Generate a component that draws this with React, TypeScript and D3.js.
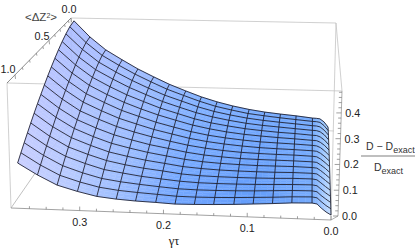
import React from "react";
import * as d3 from "d3";

// gamma tau values of the surface columns (the last four sit inside the last mesh cell)
const gammaTau = [0.372, 0.349, 0.326, 0.302, 0.279, 0.256, 0.233, 0.209, 0.186, 0.163, 0.14, 0.116, 0.093, 0.07, 0.047, 0.023, 0.017, 0.012, 0.006, 0];
const meshColumns = 17;
// <dZ^2> values of the surface rows
const deltaZ = [0, 0.0625, 0.125, 0.1875, 0.25, 0.3125, 0.375, 0.4375, 0.5, 0.5625, 0.625, 0.6875, 0.75, 0.8125, 0.875, 0.9375, 1];

// (D - Dexact) / Dexact, one row per deltaZ, one column per gammaTau
const surface = [
  [0.481, 0.406, 0.346, 0.3, 0.258, 0.222, 0.188, 0.158, 0.131, 0.109, 0.091, 0.076, 0.065, 0.057, 0.05, 0.041, 0.04, 0.038, 0.024, 0],
  [0.465, 0.392, 0.333, 0.288, 0.248, 0.213, 0.18, 0.152, 0.126, 0.104, 0.088, 0.073, 0.064, 0.056, 0.049, 0.042, 0.041, 0.038, 0.023, 0],
  [0.446, 0.375, 0.317, 0.273, 0.235, 0.201, 0.17, 0.144, 0.119, 0.099, 0.084, 0.071, 0.062, 0.055, 0.049, 0.042, 0.041, 0.037, 0.022, 0],
  [0.426, 0.356, 0.3, 0.258, 0.221, 0.19, 0.16, 0.135, 0.112, 0.094, 0.08, 0.068, 0.06, 0.054, 0.048, 0.042, 0.041, 0.036, 0.022, 0],
  [0.405, 0.338, 0.283, 0.242, 0.207, 0.178, 0.15, 0.127, 0.105, 0.088, 0.076, 0.065, 0.058, 0.052, 0.048, 0.042, 0.041, 0.035, 0.021, 0],
  [0.384, 0.319, 0.266, 0.226, 0.193, 0.165, 0.14, 0.118, 0.098, 0.083, 0.071, 0.062, 0.056, 0.051, 0.047, 0.042, 0.041, 0.034, 0.02, 0],
  [0.363, 0.3, 0.248, 0.211, 0.178, 0.153, 0.129, 0.109, 0.091, 0.077, 0.067, 0.059, 0.053, 0.05, 0.047, 0.043, 0.041, 0.034, 0.019, 0],
  [0.342, 0.281, 0.231, 0.195, 0.164, 0.141, 0.119, 0.101, 0.084, 0.072, 0.063, 0.056, 0.051, 0.048, 0.046, 0.043, 0.041, 0.033, 0.018, 0],
  [0.321, 0.262, 0.213, 0.179, 0.15, 0.128, 0.109, 0.092, 0.077, 0.066, 0.058, 0.052, 0.049, 0.047, 0.046, 0.043, 0.041, 0.032, 0.017, 0],
  [0.3, 0.243, 0.196, 0.163, 0.136, 0.116, 0.098, 0.084, 0.07, 0.06, 0.054, 0.049, 0.047, 0.046, 0.045, 0.043, 0.041, 0.031, 0.017, 0],
  [0.28, 0.225, 0.18, 0.148, 0.122, 0.104, 0.088, 0.075, 0.063, 0.055, 0.05, 0.047, 0.045, 0.045, 0.045, 0.043, 0.041, 0.031, 0.016, 0],
  [0.26, 0.206, 0.163, 0.133, 0.108, 0.092, 0.078, 0.067, 0.056, 0.05, 0.046, 0.044, 0.043, 0.043, 0.044, 0.043, 0.041, 0.03, 0.015, 0],
  [0.24, 0.188, 0.146, 0.118, 0.095, 0.08, 0.068, 0.059, 0.049, 0.044, 0.042, 0.041, 0.041, 0.042, 0.044, 0.044, 0.041, 0.029, 0.014, 0],
  [0.22, 0.17, 0.13, 0.103, 0.081, 0.069, 0.058, 0.05, 0.043, 0.039, 0.038, 0.038, 0.039, 0.041, 0.043, 0.044, 0.041, 0.028, 0.013, 0],
  [0.201, 0.153, 0.114, 0.088, 0.068, 0.057, 0.049, 0.042, 0.036, 0.034, 0.034, 0.035, 0.037, 0.04, 0.043, 0.044, 0.041, 0.027, 0.013, 0],
  [0.182, 0.136, 0.098, 0.074, 0.056, 0.046, 0.04, 0.035, 0.03, 0.029, 0.03, 0.032, 0.035, 0.038, 0.042, 0.044, 0.041, 0.027, 0.012, 0],
  [0.163, 0.119, 0.082, 0.06, 0.043, 0.035, 0.03, 0.027, 0.023, 0.024, 0.026, 0.029, 0.033, 0.037, 0.042, 0.044, 0.041, 0.026, 0.011, 0],
];

const gammaTicks = [0.36, 0.34, 0.32, 0.3, 0.28, 0.26, 0.24, 0.22, 0.2, 0.18, 0.16, 0.14, 0.12, 0.1, 0.08, 0.06, 0.04, 0.02, 0];
const gammaLabels = [0.3, 0.2, 0.1, 0];
const deltaTicks = [0, 0.1, 0.2, 0.3, 0.4, 0.5, 0.6, 0.7, 0.8, 0.9, 1];
const deltaLabels = [0, 0.5, 1];
const zTicks = [0, 0.02, 0.04, 0.06, 0.08, 0.1, 0.12, 0.14, 0.16, 0.18, 0.2, 0.22, 0.24, 0.26, 0.28, 0.3, 0.32, 0.34, 0.36, 0.38, 0.4, 0.42, 0.44, 0.46, 0.48];
const zLabels = [0.4, 0.3, 0.2, 0.1, 0];

const uScale = d3.scaleLinear().domain([0.372, 0]).range([0, 1]);
const vScaleY = d3.scalePow().exponent(1.15).domain([0, 1]).range([0, 1]);
const vScaleX = d3.scalePow().exponent(0.95).domain([0, 1]).range([0, 1]);
const hScale = d3.scaleLinear().domain([0, 0.485]).range([0, 1]);

const lerp = (a: number, b: number, t: number) => a + (b - a) * t;

// floor and lift of the four surface corners
const floorBack = [[75, 122], [328, 127]];
const floorFront = [[19, 205], [331, 215]];
const liftBack = [[-1, -102], [1, -102]];
const liftFront = [[-4, -125], [4, -125]];

const project = (u: number, v: number, z: number): [number, number] => {
  const p = uScale(u);
  const h = hScale(z);
  const at = (k: number) => {
    const w = k === 0 ? vScaleX(v) : vScaleY(v);
    const floor = lerp(lerp(floorBack[0][k], floorBack[1][k], p), lerp(floorFront[0][k], floorFront[1][k], p), w);
    const lift = lerp(lerp(liftBack[0][k], liftBack[1][k], p), lerp(liftFront[0][k], liftFront[1][k], p), w);
    return floor + lift * h;
  };
  return [at(0), at(1)];
};

const colorStops = [0, 0.15, 0.3, 0.5, 0.75, 0.94, 0.98];
const backColor = d3.scaleLinear<string>().domain(colorStops).range(["#a8b9ff", "#a0b9ff", "#93b6ff", "#78abff", "#68a2fe", "#66a2fc", "#8fc0ff"]).interpolate(d3.interpolateRgb);
const frontColor = d3.scaleLinear<string>().domain(colorStops).range(["#c6ccff", "#b4c8ff", "#9abbff", "#669fff", "#5795fa", "#6ca5fc", "#a5caff"]).interpolate(d3.interpolateRgb);

const line = d3.line();

// box edges
const corner = {
  topBackLeft: [71, 18],
  topFrontLeft: [7, 83],
  topFrontRight: [342, 91],
  topBackRight: [336, 23],
  bottomBackLeft: [72, 120],
  bottomFrontLeft: [11, 208],
  bottomFrontRight: [331, 220],
  bottomBackRight: [334, 131],
  zBottom: [338, 216],
} as Record<string, [number, number]>;

const gammaAxis = d3.scaleLinear().domain([0.382, 0]).range([0, 1]);
const deltaAxis = d3.scalePow().exponent(1.35).domain([0, 1]).range([0, 0.875]);
const zAxis = d3.scaleLinear().domain([0, 0.485]).range([0, 1]);

const along = (a: [number, number], b: [number, number], t: number): [number, number] => [lerp(a[0], b[0], t), lerp(a[1], b[1], t)];

const font = "'Liberation Sans', Arial, sans-serif";
const fmt = d3.format(".1f");
const shade = 3; // colour steps inside one surface cell

export default function App() {
  const cells: { d: string; fill: string }[] = [];
  for (let j = 0; j < deltaZ.length - 1; j++) {
    for (let i = 0; i < gammaTau.length - 1; i++) {
      const a = project(gammaTau[i], deltaZ[j], surface[j][i]);
      const b = project(gammaTau[i + 1], deltaZ[j], surface[j][i + 1]);
      const c = project(gammaTau[i + 1], deltaZ[j + 1], surface[j + 1][i + 1]);
      const d = project(gammaTau[i], deltaZ[j + 1], surface[j + 1][i]);
      const inside = (s: number, t: number): [number, number] => [
        lerp(lerp(a[0], b[0], s), lerp(d[0], c[0], s), t),
        lerp(lerp(a[1], b[1], s), lerp(d[1], c[1], s), t),
      ];
      for (let m = 0; m < shade; m++) {
        for (let n = 0; n < shade; n++) {
          const s0 = n / shade, s1 = (n + 1) / shade, t0 = m / shade, t1 = (m + 1) / shade;
          const pm = lerp(uScale(gammaTau[i]), uScale(gammaTau[i + 1]), (s0 + s1) / 2);
          const wm = lerp(vScaleY(deltaZ[j]), vScaleY(deltaZ[j + 1]), (t0 + t1) / 2);
          cells.push({
            d: line([inside(s0, t0), inside(s1, t0), inside(s1, t1), inside(s0, t1)]) + "Z",
            fill: d3.interpolateRgb(backColor(pm), frontColor(pm))(wm),
          });
        }
      }
    }
  }

  const rowLines = deltaZ.map((v, j) => line(gammaTau.map((u, i) => project(u, v, surface[j][i]))) as string);
  const columnLines = gammaTau.slice(0, meshColumns - 1).concat(gammaTau[gammaTau.length - 1]).map((u) => {
    const i = gammaTau.indexOf(u);
    return line(deltaZ.map((v, j) => project(u, v, surface[j][i]))) as string;
  });

  const c = corner;
  const edge = (a: [number, number], b: [number, number], stroke: string, key: string) => (
    <line key={key} x1={a[0]} y1={a[1]} x2={b[0]} y2={b[1]} stroke={stroke} strokeWidth={0.8} />
  );

  return (
    <svg width={415} height={250} style={{ position: "absolute", left: 0, top: 0 }} fontFamily={font} fontSize={10.8} fill="#222">
      {/* box behind the surface */}
      {edge(c.topBackLeft, c.topBackRight, "#c4c4c4", "e1")}
      {edge(c.topFrontLeft, c.topFrontRight, "#c4c4c4", "e2")}
      {edge(c.topFrontLeft, c.bottomFrontLeft, "#c4c4c4", "e3")}
      {edge(c.topBackLeft, c.bottomBackLeft, "#c4c4c4", "e4")}
      {edge(c.bottomBackLeft, c.bottomFrontLeft, "#b0b0b0", "e5")}
      {edge(c.bottomBackLeft, c.bottomBackRight, "#c4c4c4", "e6")}
      {edge(c.topBackRight, c.topFrontRight, "#c4c4c4", "e7")}
      {edge(c.topBackRight, c.bottomFrontRight, "#c4c4c4", "e8")}
      {edge(c.bottomFrontRight, c.zBottom, "#999", "e9")}

      {/* axes */}
      {edge(c.bottomFrontLeft, c.bottomFrontRight, "#8a8a8a", "xa")}
      {edge(c.topBackLeft, c.topFrontLeft, "#6f6f6f", "va")}
      {edge(c.topFrontRight, c.zBottom, "#9a9a9a", "za")}

      {gammaTicks.map((t) => {
        const [x, y] = along(c.bottomFrontLeft, c.bottomFrontRight, gammaAxis(t));
        const major = gammaLabels.includes(t);
        return <line key={"gt" + t} x1={x} y1={y} x2={x} y2={y - (major ? 4 : 2.5)} stroke="#777" strokeWidth={0.7} />;
      })}
      {deltaTicks.map((t) => {
        const [x, y] = along(c.topBackLeft, c.topFrontLeft, deltaAxis(t));
        const major = deltaLabels.includes(t);
        return <line key={"dt" + t} x1={x} y1={y} x2={x + 0.5} y2={y + (major ? 4 : 2.5)} stroke="#777" strokeWidth={0.7} />;
      })}
      {zTicks.map((t) => {
        const [x, y] = along(c.zBottom, c.topFrontRight, zAxis(t));
        const major = zLabels.includes(t);
        return <line key={"zt" + t} x1={x} y1={y} x2={x - (major ? 5 : 3)} y2={y} stroke="#777" strokeWidth={0.7} />;
      })}

      <g opacity={0.92}>
        {cells.map((cell, k) => (
          <path key={k} d={cell.d} fill={cell.fill} stroke={cell.fill} strokeWidth={0.4} />
        ))}
      </g>
      <g fill="none" stroke="#1a1a28" strokeWidth={0.85} strokeLinejoin="round">
        {rowLines.map((d, k) => <path key={"r" + k} d={d} />)}
        {columnLines.map((d, k) => <path key={"c" + k} d={d} />)}
      </g>

      {/* tick labels */}
      {gammaLabels.map((t) => {
        const [x, y] = along(c.bottomFrontLeft, c.bottomFrontRight, gammaAxis(t));
        return <text key={"gl" + t} x={x} y={y + 15} textAnchor="middle">{fmt(t)}</text>;
      })}
      {deltaLabels.map((t) => {
        const [x, y] = along(c.topBackLeft, c.topFrontLeft, deltaAxis(t));
        const dx = t === 0 ? -2 : -7;
        const dy = t === 0 ? -5.5 : t === 1 ? -2 : -0.5;
        return <text key={"dl" + t} x={x + dx} y={y + dy} textAnchor="middle">{fmt(t)}</text>;
      })}
      {zLabels.map((t) => {
        const [x, y] = along(c.zBottom, c.topFrontRight, zAxis(t));
        return <text key={"zl" + t} x={x + 4} y={y + 4}>{fmt(t)}</text>;
      })}

      {/* axis titles */}
      <text x={174} y={245} textAnchor="middle" fontSize={12.5} fontFamily="'Liberation Serif', serif">γτ</text>
      <text x={41} y={21} textAnchor="middle" fontSize={11.5} fill="#444">{"<ΔZ"}<tspan fontSize={7} dy={-3.5}>2</tspan><tspan dy={3.5}>{">"}</tspan></text>

      <text x={366} y={150} fontSize={10.5} fill="#333">D − D<tspan fontSize={9} dy={2.5}>exact</tspan></text>
      <line x1={361} x2={415} y1={156} y2={156} stroke="#808080" strokeWidth={1.2} />
      <text x={374} y={171} fontSize={10.5} fill="#333">D<tspan fontSize={9} dy={2.5}>exact</tspan></text>
    </svg>
  );
}
